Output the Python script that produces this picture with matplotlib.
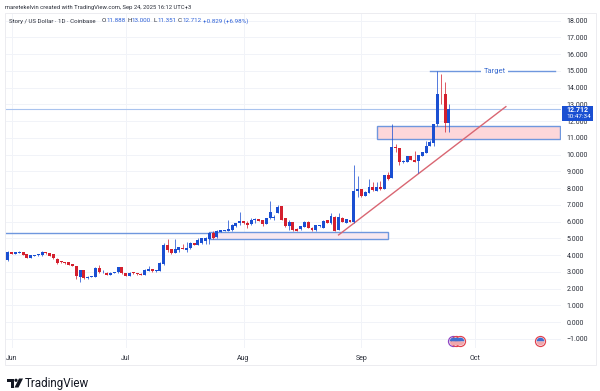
import numpy as np, pandas as pd
import matplotlib; matplotlib.use("Agg")
import matplotlib.pyplot as plt
from matplotlib.patches import Rectangle, Polygon

BLUE="#1a4fd2"; RED="#d4202e"; LINE="#6f97de"; GRID="#f1f3f8"; TXT="#2a2e39"
plt.rcParams["font.family"]=["Roboto","DejaVu Sans"]

# daily candles, May 30 -> Sep 24
opens=[4.17,3.72,4.18,4.10,4.15,4.20,4.05,3.85,3.95,4.0, 4.0,4.18,4.12,4.05,3.8,3.64,3.6,3.58,3.46,3.36,
 2.72,3.12,2.62,2.70,2.72,3.22,2.98,2.96,2.82,2.95, 2.98,3.28,2.92,2.78,2.98,2.94,2.9,2.84,3.06,3.18,
 3.04,3.05,3.46,4.61,4.37,4.13,4.32,4.45,4.33,4.41, 4.71,4.61,4.71,4.87,4.97,5.31,5.07,5.41,5.45,5.47,
 5.49,5.72,5.95,6.05,5.92,5.85,6.1,6.16,6.08,5.87, 6.2,6.22,6.52,6.92,6.2,5.76,5.96,5.58,5.55,5.68,
 6.0,5.65,5.5,5.72,5.65,6.1,5.9,6.3,5.5,6.24, 5.94,6.1,5.96,7.85,7.93,7.56,7.73,8.05,7.83,8.07,
 7.95,8.79,8.6,10.44,10.38,9.55,9.58,9.92,9.7,9.6, 9.94,10.12,10.54,10.68,11.83,13.65,13.63,11.888]
highs=[4.2,4.25,4.2,4.18,4.24,4.22,4.1,4.02,4.02,4.07, 4.28,4.2,4.14,4.07,3.82,3.66,3.62,3.6,3.48,3.38,
 3.14,3.14,2.74,2.76,3.28,3.42,3.1,2.98,2.97,3.0, 3.3,3.3,2.94,2.98,3.0,2.96,2.92,3.16,3.36,3.2,
 3.12,3.57,4.72,4.97,4.39,4.95,4.51,4.68,4.78,4.77, 4.73,5.0,5.02,5.07,5.36,5.47,5.49,5.51,5.53,6.08,
 5.84,5.94,6.56,6.07,6.05,6.2,6.24,6.18,6.1,6.22, 7.24,6.4,7.0,6.94,6.22,6.1,5.98,5.6,5.77,6.02,
 6.02,5.67,5.82,5.82,6.08,6.12,6.54,6.32,6.5,6.26, 6.16,6.12,9.4,8.75,7.98,7.81,8.55,8.4,8.4,8.43,
 8.81,8.95,11.81,10.64,10.4,9.67,9.94,9.94,10.24,10.0, 10.16,10.84,10.88,11.85,15.0,14.82,14.36,13.0]
lows=[3.72,3.68,4.05,4.08,4.12,4.0,3.82,3.83,3.93,3.98, 3.94,4.1,3.94,3.8,3.45,3.56,3.5,3.4,3.34,2.58,
 2.42,2.6,2.6,2.68,2.7,2.95,2.96,2.8,2.8,2.93, 2.96,2.9,2.76,2.76,2.9,2.84,2.82,2.82,3.04,3.02,
 3.02,3.03,3.4,4.2,4.1,4.11,4.2,4.35,4.22,4.39, 4.59,4.59,4.69,4.67,4.65,4.95,5.05,5.39,5.43,5.45,
 5.45,5.7,5.8,5.88,5.65,5.83,5.9,6.03,5.77,5.85, 6.18,6.1,6.5,6.1,5.7,5.5,5.45,5.43,5.53,5.66,
 5.6,5.45,5.46,5.7,5.63,5.9,5.88,5.43,5.48,5.98, 5.92,5.96,5.94,7.5,7.48,7.54,7.71,7.83,7.81,7.88,
 7.93,8.5,8.58,10.18,9.4,9.48,9.56,9.66,9.55,8.93, 9.92,10.1,10.52,10.52,11.74,13.03,11.38,11.351]
closes=[3.72,4.22,4.10,4.17,4.22,4.03,3.85,4.0,4.0,4.05, 4.18,4.12,3.96,3.82,3.56,3.58,3.52,3.42,3.36,2.78,
 3.12,2.62,2.72,2.74,3.26,2.97,3.0,2.82,2.95,2.98, 3.28,2.92,2.78,2.96,2.92,2.86,2.84,3.14,3.2,3.04,
 3.1,3.55,4.63,4.31,4.13,4.37,4.49,4.37,4.41,4.72, 4.61,4.91,5.0,5.01,5.31,5.0,5.47,5.49,5.51,5.57,
 5.8,5.92,6.05,5.9,5.8,6.08,6.16,6.05,5.85,6.2, 6.56,6.28,6.88,6.12,5.76,5.96,5.5,5.45,5.75,6.0,
 5.65,5.5,5.8,5.8,6.06,5.94,6.34,5.45,6.3,6.0, 6.14,5.98,7.83,7.93,7.53,7.79,8.09,7.9,8.05,7.93,
 8.79,8.55,10.48,10.38,9.55,9.65,9.92,9.68,9.57,9.98, 10.14,10.52,10.74,11.83,13.63,13.6,11.88,12.712]
price_ticks=list(range(-1,19))
month_ticks=["2025-06-01","2025-07-01","2025-08-01","2025-09-01","2025-10-01"]
month_labels=["Jun","Jul","Aug","Sep","Oct"]
last_price=12.712
upper_zone=["2025-09-05","2025-10-23 08:00",10.94,11.73]
lower_zone=["2025-07-23","2025-09-08",4.97,5.38]
support=["2025-05-30","2025-07-23",5.33]
target=["2025-09-19","2025-10-22",15.0]
trend_x=["2025-08-26","2025-10-09"]; trend_y=[5.21,12.87]
event_us=["2025-09-26","2025-09-27","2025-10-18"]; event_other=["2025-09-25"]

dates=pd.date_range("2025-05-30",periods=len(opens))
o,h,l,c=map(np.array,(opens,highs,lows,closes))
colors=np.where(c>=o,BLUE,RED)

fig=plt.figure(figsize=(6,3.91),dpi=100,facecolor="white")
ax=fig.add_axes([5/600,1-348/391,556/600,335/391])
ax.set_xlim(pd.Timestamp("2025-05-30 06:00"),pd.Timestamp("2025-10-23 12:00")); ax.set_ylim(-1.54,18.46)
for s in ax.spines.values(): s.set_visible(False)
ax.set_yticks(price_ticks); ax.set_yticklabels([f"{p:.3f}".replace("-","\u2212") for p in price_ticks])
ax.set_xticks(pd.to_datetime(month_ticks)); ax.set_xticklabels(month_labels)
ax.yaxis.tick_right()
ax.tick_params(length=0,labelsize=5,labelcolor=TXT)
ax.tick_params(axis="y",pad=4); ax.tick_params(axis="x",pad=5)
ax.grid(color=GRID,lw=0.7); ax.set_axisbelow(True)

ax.axhline(last_price,color="#a9c3ee",lw=0.8,zorder=1)
for z,fc in ((upper_zone,"#fdd7da"),(lower_zone,"#f8e8f0")):
    x0,x1=pd.Timestamp(z[0]),pd.Timestamp(z[1])
    ax.add_patch(Rectangle((x0,z[2]),x1-x0,z[3]-z[2],fc=fc,ec=LINE,lw=1,zorder=1.5))
ax.plot(pd.to_datetime(support[:2]),[support[2]]*2,color=LINE,lw=1,zorder=1.6)
ax.plot(pd.to_datetime(trend_x),trend_y,color="#d96672",lw=1,zorder=1.7)
ax.plot(pd.to_datetime(target[:2]),[target[2]]*2,color=LINE,lw=1,zorder=2)
ax.text(pd.Timestamp("2025-10-06"),target[2],"Target",color="#3f6fd0",fontsize=5.5,ha="center",va="center",
        bbox=dict(fc="white",ec="none",pad=1.5),zorder=2.1)

ax.vlines(dates,l,h,colors=colors,lw=0.7,alpha=0.75,zorder=3)
ax.bar(dates,np.abs(c-o),bottom=np.minimum(o,c),width=0.78,color=colors,lw=0,zorder=3.1)

# event flags under the candles
for d,ring in [(event_other[0],"#8e44c4")]+[(d,"#e0414e") for d in event_us]:
    ax.plot(pd.Timestamp(d),-1.15,"o",ms=7.2,mfc="white",mec=ring,mew=0.9,clip_on=False,zorder=4)
    ax.plot(pd.Timestamp(d),-1.15,"o",ms=5.6,mew=0,fillstyle="top",mfc="#3f6fd0",markerfacecoloralt="#f0a8ae",clip_on=False,zorder=4.1)

# page furniture in pixel coordinates
px=fig.add_axes([0,0,1,1],zorder=5); px.set_xlim(0,600); px.set_ylim(391,0); px.axis("off")
px.add_patch(Rectangle((5,13),591,352,fc="none",ec="#ececf0",lw=0.7))
px.add_patch(Rectangle((562,105.7),30.5,15,fc=BLUE,ec="none"))
px.text(566,109.6,"12.712",color="white",fontsize=5,fontweight="bold",va="center")
px.text(566,116.8,"10:47:34",color="white",fontsize=4.6,va="center")
px.text(5,7,"maretekelvin created with TradingView.com, Sep 24, 2025 16:12 UTC+3",color=TXT,fontsize=4.25,va="center")
px.text(9,21,"Story / US Dollar \u00b7 1D \u00b7 Coinbase",color=TXT,fontsize=4.45,va="center")
for x,k,v in [(102,"O","11.888"),(127,"H","13.000"),(153,"L","11.351"),(178,"C","12.712")]:
    px.text(x,21,k,color=TXT,fontsize=4.5,va="center")
    px.text(x+4.2,21,v,color="#2f62d8",fontsize=4.5,va="center")
px.text(203,21,"+0.829 (+6.98%)",color="#2f62d8",fontsize=4.5,va="center")
px.add_patch(Polygon([(7,378.5),(14,378.5),(14,387.5),(10.5,387.5),(10.5,382),(7,382)],fc="#131722",ec="none"))
px.add_patch(plt.Circle((16,380.3),1.6,fc="#131722",ec="none"))
px.add_patch(Polygon([(19,378.5),(23,378.5),(18.5,387.5),(14.5,387.5)],fc="#131722",ec="none"))
px.text(25,383,"TradingView",color="#131722",fontsize=8.4,va="center")
fig.savefig("out.png",dpi=100)
